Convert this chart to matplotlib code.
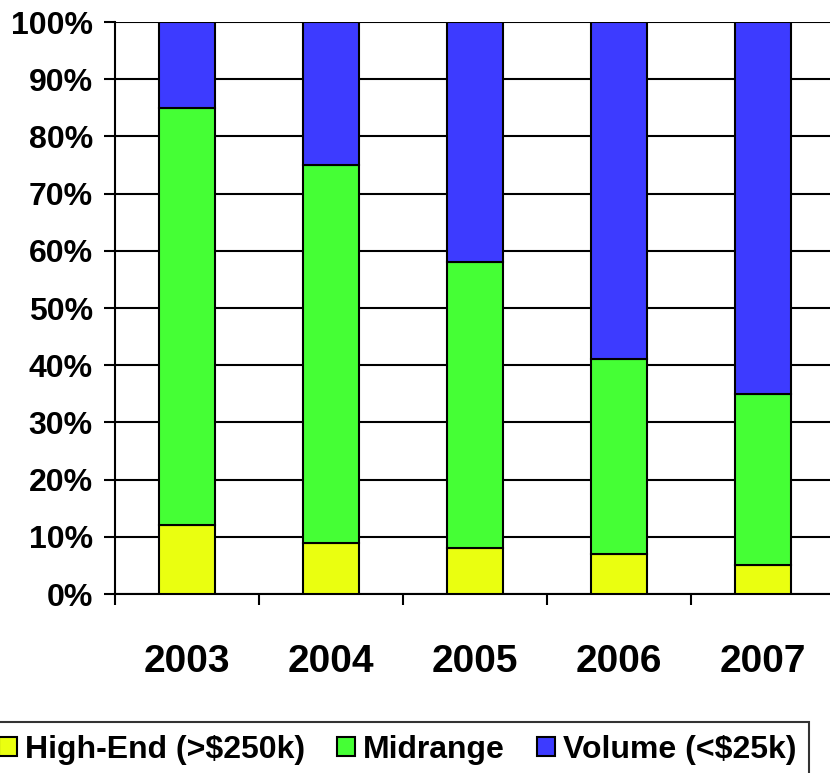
import matplotlib.pyplot as plt
import numpy as np
from matplotlib.patches import Patch

years = ['2003', '2004', '2005', '2006', '2007']
high_end = [12, 9, 8, 7, 5]
midrange = [73, 66, 50, 34, 30]
volume = [15, 25, 42, 59, 65]
labels = ['High-End (>$250k)', 'Midrange', 'Volume (<$25k)']
colors = ['#EAFF10', '#45FF35', '#3D3BFF']

plt.rcParams['font.family'] = 'Liberation Sans'
plt.rcParams['font.weight'] = 'bold'

fig = plt.figure(figsize=(8.3, 7.73), dpi=100)
ax = fig.add_axes([115/830, 1-594/773, 720/830, 572/773])

x = np.arange(len(years))
w = 0.39
b1 = np.array(high_end)
b2 = b1 + np.array(midrange)
ax.bar(x, high_end, w, color=colors[0], edgecolor='black', linewidth=1.5, zorder=3)
ax.bar(x, midrange, w, bottom=b1, color=colors[1], edgecolor='black', linewidth=1.5, zorder=3)
ax.bar(x, volume, w, bottom=b2, color=colors[2], edgecolor='black', linewidth=1.5, zorder=3)

ax.set_xlim(-0.5, 4.5)
ax.set_ylim(0, 100)
ax.set_yticks(range(0, 101, 10))
ax.set_yticklabels([str(v) + '%' for v in range(0, 101, 10)], fontsize=23, fontweight='bold')
ax.yaxis.grid(True, color='black', linewidth=1.5, zorder=0)
ax.tick_params(axis='y', length=8, width=1.5, pad=8)

ax.set_xticks(x)
ax.set_xticklabels(years, fontsize=28, fontweight='bold')
ax.set_xticks(np.arange(-0.5, 4.6, 1), minor=True)
ax.tick_params(axis='x', which='major', length=0, pad=36)
ax.tick_params(axis='x', which='minor', length=8, width=1.5)

for s in ['top', 'right']:
    ax.spines[s].set_visible(False)
for s in ['left', 'bottom']:
    ax.spines[s].set_linewidth(1.5)

handles = [Patch(facecolor=c, edgecolor='black', linewidth=1.5) for c in colors]
leg = fig.legend(handles, labels, loc='upper left', bbox_to_anchor=(-0.016, 1-722/773),
                 ncol=3, frameon=True, fancybox=False, borderaxespad=0,
                 handlelength=0.56, handleheight=0.56, handletextpad=0.25,
                 columnspacing=1.0, borderpad=0.4, prop={'weight': 'bold', 'size': 23})
leg.get_frame().set_edgecolor('black')
leg.get_frame().set_linewidth(1.5)

fig.savefig('out.png', dpi=100)
